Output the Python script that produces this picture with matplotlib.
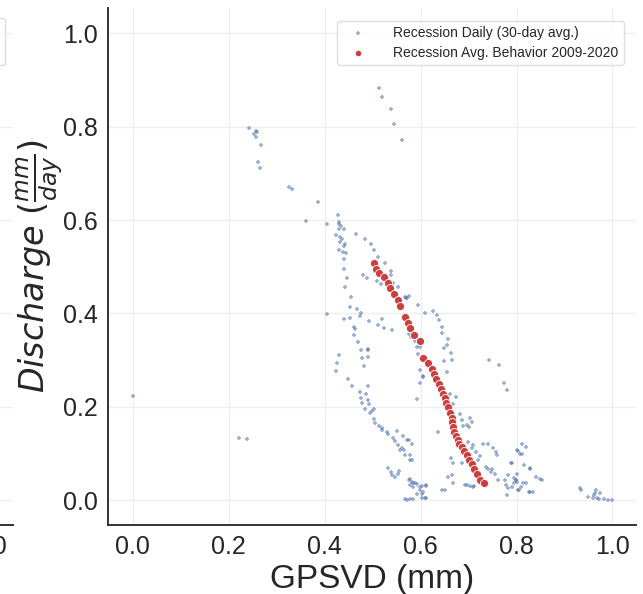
import matplotlib
matplotlib.use('Agg')
import matplotlib.pyplot as plt
from matplotlib.lines import Line2D

# ---------------- data ----------------
daily_x = [0.000, 0.2225, 0.2385,
           0.243, 0.253, 0.257, 0.260, 0.257, 0.268, 0.262, 0.265,
           0.325, 0.332, 0.387, 0.361, 0.405,
           0.513, 0.520, 0.5385, 0.545, 0.562,
           0.427, 0.429, 0.431, 0.434, 0.431, 0.441, 0.424, 0.432, 0.436, 0.432, 0.443, 0.441,
           0.430, 0.438, 0.445, 0.441, 0.441, 0.446, 0.443,
           0.466, 0.484, 0.496, 0.504, 0.511, 0.525, 0.538, 0.538, 0.543, 0.552,
           0.568, 0.571, 0.575, 0.570, 0.595, 0.609, 0.625, 0.635, 0.639, 0.644, 0.644, 0.658,
           0.648, 0.655, 0.663, 0.665, 0.649, 0.656,
           0.481, 0.488, 0.509, 0.518,
           0.455, 0.406, 0.452, 0.467, 0.475, 0.474, 0.441, 0.453, 0.493, 0.519, 0.511, 0.524, 0.541,
           0.461, 0.464, 0.462, 0.470, 0.490, 0.475,
           0.575, 0.580, 0.589, 0.593, 0.598, 0.595,
           0.491, 0.431, 0.477, 0.491, 0.425, 0.482, 0.423,
           0.448, 0.457, 0.491, 0.473, 0.486, 0.475, 0.491, 0.477, 0.493, 0.484, 0.502, 0.498,
           0.495, 0.502, 0.505, 0.514, 0.519, 0.532, 0.542, 0.550, 0.547, 0.563, 0.571, 0.554,
           0.561, 0.566, 0.557, 0.582, 0.568, 0.577, 0.578, 0.520, 0.530, 0.575, 0.582,
           0.593, 0.599, 0.606, 0.599, 0.606,
           0.533, 0.538, 0.540, 0.547, 0.552, 0.556,
           0.578, 0.582, 0.577, 0.585, 0.589, 0.593, 0.598, 0.602, 0.606, 0.611, 0.592, 0.575, 0.585,
           0.568, 0.572, 0.578, 0.585, 0.609, 0.604, 0.599, 0.602, 0.612, 0.611,
           0.743, 0.764, 0.774, 0.781,
           0.661, 0.674, 0.667, 0.682, 0.686, 0.689, 0.703, 0.707, 0.696, 0.702, 0.637,
           0.699, 0.710, 0.707, 0.731, 0.741, 0.716, 0.723, 0.719, 0.752, 0.757, 0.760,
           0.663, 0.668, 0.686,
           0.737, 0.740, 0.747, 0.749, 0.755, 0.762,
           0.658, 0.665, 0.667, 0.693, 0.696, 0.703, 0.709, 0.711, 0.644, 0.651,
           0.788, 0.783, 0.781, 0.778, 0.790, 0.795, 0.798, 0.802, 0.804, 0.809,
           0.802, 0.807, 0.820, 0.816, 0.820, 0.825,
           0.812, 0.804, 0.811, 0.791, 0.828, 0.829, 0.798, 0.795, 0.801, 0.841, 0.849, 0.853,
           0.813, 0.783, 0.806, 0.828, 0.834, 0.776,
           0.932, 0.934, 0.948, 0.960, 0.962, 0.966, 0.964, 0.968, 0.972, 0.974, 0.982, 0.991, 1.000]
daily_y = [0.224, 0.134, 0.132,
           0.798, 0.784, 0.790, 0.789, 0.777, 0.761, 0.725, 0.712,
           0.671, 0.666, 0.638, 0.597, 0.591,
           0.882, 0.864, 0.838, 0.805, 0.772,
           0.611, 0.596, 0.591, 0.587, 0.580, 0.580, 0.567, 0.564, 0.559, 0.553, 0.549, 0.544,
           0.536, 0.532, 0.530, 0.516, 0.496, 0.476, 0.457,
           0.571, 0.560, 0.548, 0.535, 0.521, 0.507, 0.491, 0.482, 0.466, 0.457,
           0.436, 0.432, 0.437, 0.434, 0.417, 0.401, 0.406, 0.396, 0.386, 0.371, 0.359, 0.346,
           0.327, 0.332, 0.316, 0.301, 0.298, 0.275,
           0.483, 0.476, 0.470, 0.464,
           0.436, 0.398, 0.413, 0.409, 0.401, 0.394, 0.389, 0.391, 0.384, 0.389, 0.375, 0.369, 0.365,
           0.371, 0.366, 0.354, 0.339, 0.323, 0.321,
           0.357, 0.350, 0.341, 0.329, 0.329, 0.314,
           0.321, 0.311, 0.304, 0.306, 0.293, 0.287, 0.277,
           0.260, 0.244, 0.244, 0.231, 0.227, 0.220, 0.214, 0.208, 0.206, 0.196, 0.196, 0.191,
           0.186, 0.175, 0.166, 0.159, 0.150, 0.141, 0.134, 0.148, 0.127, 0.137, 0.129, 0.118,
           0.111, 0.107, 0.107, 0.120, 0.096, 0.096, 0.087, 0.154, 0.146, 0.129, 0.086,
           0.216, 0.250, 0.266, 0.279, 0.264,
           0.070, 0.061, 0.054, 0.050, 0.056, 0.063,
           0.046, 0.039, 0.032, 0.029, 0.037, 0.034, 0.023, 0.030, 0.018, 0.030, 0.014, 0.043, 0.036,
           0.002, 0.000, 0.002, 0.002, 0.004, 0.004, 0.029, 0.014, 0.004, 0.032,
           0.301, 0.289, 0.250, 0.237,
           0.227, 0.221, 0.206, 0.184, 0.171, 0.159, 0.177, 0.168, 0.161, 0.157, 0.146,
           0.125, 0.118, 0.111, 0.121, 0.120, 0.104, 0.094, 0.087, 0.111, 0.104, 0.096,
           0.091, 0.080, 0.079,
           0.071, 0.066, 0.061, 0.066, 0.056, 0.044,
           0.050, 0.054, 0.036, 0.032, 0.032, 0.030, 0.029, 0.030, 0.021, 0.023,
           0.079, 0.054, 0.011, 0.032, 0.029, 0.036, 0.043, 0.057, 0.021, 0.029,
           0.107, 0.099, 0.114, 0.075, 0.036, 0.018,
           0.121, 0.106, 0.099, 0.079, 0.070, 0.066, 0.044, 0.048, 0.040, 0.049, 0.046, 0.044,
           0.036, 0.027, 0.023, 0.018, 0.018, 0.043,
           0.027, 0.023, 0.006, 0.005, 0.011, 0.022, 0.015, 0.004, 0.002, 0.016, 0.002, 0.000, 0.000]

avg_x = [0.502, 0.507, 0.514, 0.523, 0.533, 0.536, 0.545, 0.552, 0.557, 0.568, 0.573, 0.578,
         0.587, 0.598, 0.606, 0.616, 0.623, 0.627, 0.632, 0.639, 0.643, 0.646, 0.650, 0.653,
         0.657, 0.661, 0.665, 0.666, 0.668, 0.670, 0.674, 0.677, 0.681, 0.686, 0.691, 0.696,
         0.701, 0.707, 0.711, 0.717, 0.724, 0.732]
avg_y = [0.507, 0.496, 0.487, 0.477, 0.466, 0.454, 0.441, 0.429, 0.416, 0.393, 0.380, 0.368,
         0.354, 0.341, 0.304, 0.293, 0.280, 0.270, 0.259, 0.249, 0.238, 0.227, 0.218, 0.209,
         0.199, 0.187, 0.177, 0.168, 0.157, 0.146, 0.137, 0.129, 0.120, 0.113, 0.106, 0.096,
         0.086, 0.077, 0.066, 0.056, 0.044, 0.036]

ticks = [0.0, 0.2, 0.4, 0.6, 0.8, 1.0]
daily_label = 'Recession Daily (30-day avg.)'
avg_label = 'Recession Avg. Behavior 2009-2020'
xlabel = 'GPSVD (mm)'
ylabel = r'$Discharge\ (\frac{mm}{day})$'

# ---------------- style ----------------
plt.rcParams['font.family'] = ['Liberation Sans', 'DejaVu Sans']
plt.rcParams['mathtext.fontset'] = 'dejavusans'

BLUE = '#4c72b0'
RED = '#c9403f'
GRID = '#eeeeee'
SPINE = '#333333'
TXT = '#262626'

W, H = 643, 594
fig = plt.figure(figsize=(W / 100, H / 100), dpi=100)


def rect(l, r, b, t):
    return [l / W, 1 - b / H, (r - l) / W, (b - t) / H]


def style(ax):
    ax.set_facecolor('white')
    ax.set_xlim(-0.052, 1.049)
    ax.set_ylim(-0.053, 1.054)
    ax.set_xticks(ticks)
    ax.set_yticks(ticks)
    ax.grid(True, color=GRID, linewidth=0.9)
    ax.set_axisbelow(True)
    for s in ['top', 'right']:
        ax.spines[s].set_visible(False)
    for s in ['left', 'bottom']:
        ax.spines[s].set_color(SPINE)
        ax.spines[s].set_linewidth(1.4)
    ax.tick_params(length=0, pad=7, labelsize=18, labelcolor=TXT)


# partial neighbouring panel on the left (mostly off-canvas)
ax0 = fig.add_axes(rect(13 - 528.3, 13, 525, 8))
style(ax0)
ax0.spines['left'].set_visible(False)
h0 = [Line2D([], [], linestyle='none', marker='o', color=RED)]
ax0.legend(h0, [avg_label], loc='upper right', bbox_to_anchor=(5 / W, 1 - 18 / H),
           bbox_transform=fig.transFigure, borderaxespad=0, fontsize=10,
           frameon=True, edgecolor='#d6d6d6', framealpha=0.8, borderpad=1.2)

# main panel
ax = fig.add_axes(rect(107.7, 636, 525, 8))
style(ax)
ax.scatter(daily_x, daily_y, marker='+', s=12, linewidths=1.3, color=BLUE,
           alpha=0.55, label=daily_label, zorder=2)
ax.scatter(avg_x, avg_y, marker='o', s=34, color=RED, edgecolors='white',
           linewidths=0.6, label=avg_label, zorder=3)
ax.set_xlabel(xlabel, fontsize=24, color=TXT, labelpad=4)
ax.set_ylabel(ylabel, fontsize=24, color=TXT, labelpad=-2)
leg = ax.legend(loc='upper right', fontsize=10, frameon=True, edgecolor='#d6d6d6',
                framealpha=0.8, borderaxespad=0.9, handletextpad=1.4,
                handlelength=2.2, labelspacing=0.4, markerscale=0.8)
for t in leg.get_texts():
    t.set_color(TXT)

fig.savefig('out.png', dpi=100, facecolor='white')
